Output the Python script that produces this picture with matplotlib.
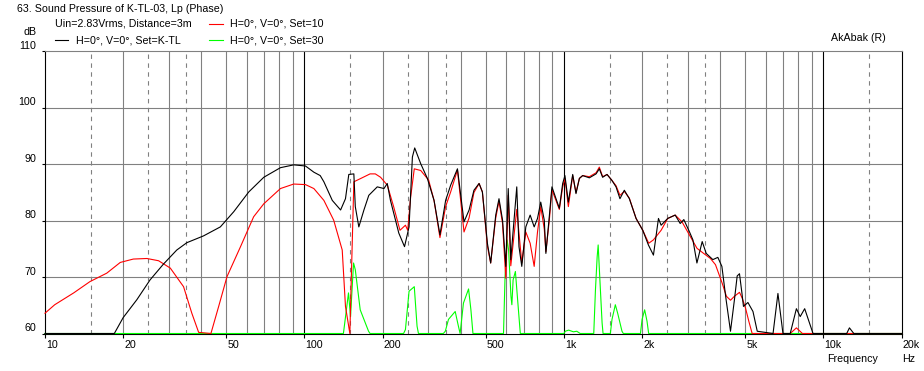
import numpy as np
import matplotlib
matplotlib.use("Agg")
import matplotlib.pyplot as plt
from matplotlib.ticker import FixedLocator, NullLocator, NullFormatter
from matplotlib.transforms import blended_transform_factory, offset_copy
from matplotlib.lines import Line2D

# ---------------- data ----------------
title = "63. Sound Pressure of K-TL-03, Lp (Phase)"
info = "Uin=2.83Vrms, Distance=3m"
series_names = ["H=0°, V=0°, Set=K-TL", "H=0°, V=0°, Set=10", "H=0°, V=0°, Set=30"]

x_tick_values = [10, 20, 50, 100, 200, 500, 1000, 2000, 5000, 10000, 20000]
x_tick_labels = ["10", "20", "50", "100", "200", "500", "1k", "2k", "5k", "10k", "20k"]
y_tick_values = [60, 70, 80, 90, 100, 110]

freq_ktl = [10, 18.5, 20.0, 22.6, 25.4, 28.6, 32.2, 35.2, 40.8, 47.4, 53.4, 61.0, 69.7,
            80.8, 90.9, 100.9, 108.7, 115, 118.8, 128, 137.8, 143.9, 148.2, 155, 157,
            162, 169.5, 177, 190.8, 202.5, 208.5, 214.5, 231, 243, 253, 260.6, 266,
            280.6, 297.6, 315.8, 332.8, 350, 366, 388.7, 412, 431, 450, 471, 485, 507,
            522, 546, 562, 580, 597, 610, 624, 658, 671, 688, 713, 741, 768, 791, 814,
            840, 852, 878, 899, 960, 989, 1009, 1040, 1081, 1113, 1147, 1181, 1253,
            1330, 1369, 1410, 1466, 1528, 1588, 1644, 1709, 1787, 1897, 2013, 2116,
            2213, 2314, 2369, 2512, 2684, 2806, 2898, 3048, 3141, 3255, 3411, 3535,
            3750, 3919, 4062, 4217, 4385, 4541, 4653, 4749, 4852, 4920, 5118, 5353,
            5560, 6397, 6680, 6985, 7450, 7870, 8140, 8470, 9120, 12300, 12600, 13100,
            20000]
spl_ktl = [60, 60, 62.8, 66.0, 69.5, 72.3, 74.8, 76.1, 77.3, 78.9, 81.6, 85.1, 87.7,
           89.4, 89.9, 89.7, 88.6, 88.0, 86.9, 83.6, 81.9, 83.9, 88.2, 88.3, 82.5,
           78.9, 81.9, 84.5, 86.0, 85.7, 86.6, 83.6, 77.8, 75.4, 78.9, 91.3, 92.9,
           90.1, 87.5, 83.6, 77.5, 83.6, 86.3, 89.2, 79.8, 81.9, 85.4, 86.6, 85.1, 76.0,
           72.5, 81.0, 83.9, 80.1, 71.9, 85.7, 73.1, 86.0, 75.4, 71.9, 78.9, 81.0, 78.9,
           80.4, 83.3, 80.1, 74.2, 80.7, 86.0, 82.2, 86.6, 88.0, 83.3, 88.2, 84.8, 87.5,
           88.0, 87.6, 88.3, 89.2, 87.7, 88.2, 87.2, 86.0, 83.9, 85.4, 83.9, 80.4, 78.3,
           75.7, 73.9, 80.4, 79.2, 80.4, 81.0, 79.5, 80.2, 78.0, 76.6, 72.5, 76.3, 74.2,
           73.1, 73.5, 71.9, 66.0, 60.4, 66.0, 70.2, 70.6, 67.2, 64.8, 65.5, 63.9,
           60.4, 60, 67.1, 60, 60, 64.4, 63.0, 64.4, 60, 60, 61.0, 60,
           60]

freq_set10 = [10, 10.9, 12.9, 14.9, 17.3, 19.5, 21.9, 24.7, 27.4, 30.4, 34.2, 36.8,
              39.1, 43.6, 46.7, 50.3, 56.7, 63.7, 69.7, 80.8, 90.9, 100.9, 108.7,
              118.8, 129.6, 139.8, 143.9, 149.6, 155, 165, 179, 187.5, 196.5, 208.6,
              220.6, 233.4, 245, 250, 256.6, 265, 280.6, 301, 315.8, 332.8, 350, 366,
              388.7, 412, 431, 450, 471, 485, 507, 522, 546, 562, 580, 597, 610, 624,
              658, 688, 713, 741, 768, 791, 814, 840, 852, 878, 899, 960, 989, 1009,
              1040, 1081, 1113, 1147, 1181, 1253, 1330, 1369, 1410, 1466, 1528, 1588,
              1644, 1709, 1787, 1897, 2013, 2122, 2213, 2369, 2512, 2684, 2851, 3069,
              3258, 3455, 3669, 3838, 4074, 4229, 4385, 4541, 4749, 4862, 5011, 5157,
              5314, 7450, 7870, 8300, 20000]
spl_set10 = [63.6, 65.1, 67.2, 69.2, 70.7, 72.6, 73.2, 73.3, 72.9, 71.6, 68.3, 63.6,
             60.2, 60, 64.8, 70.1, 75.4, 80.7, 83.0, 85.7, 86.5, 86.4, 85.7,
             83.6, 80.1, 74.8, 64.8, 60, 86.9, 87.5, 88.3, 88.3, 87.7, 86.3,
             82.5, 78.3, 79.2, 78.3, 84.2, 89.2, 88.9, 87.2, 83.6, 77.0, 82.5, 85.1,
             89.0, 78.0, 80.5, 85.0, 86.6, 85.1, 75.5, 72.5, 80.5, 83.5, 79.5, 69.8, 84.5, 72.0,
             82.0, 72.5, 78.0, 76.0, 71.9, 78.0, 82.5, 78.5, 74.5, 80.0, 85.5, 82.0, 86.0, 87.5,
             82.5, 88.0, 85.0, 87.5, 88.0, 87.8, 88.5, 89.5, 87.8, 88.2, 87.2, 86.2,
             84.5, 85.2, 84.0, 80.4, 78.3, 76.0, 76.6, 78.3, 80.4, 81.0, 79.8, 77.2,
             75.1, 74.2, 73.3, 72.2, 68.9, 66.6, 65.9, 66.6, 67.3, 66.3, 64.5, 62.2,
             60, 60, 61.0, 60, 60]

freq_set30 = [10, 141.3, 147.8, 150.5, 154.6, 157, 164, 176.6, 179, 241, 245, 253, 265,
              271.6, 275, 343, 349, 359, 381, 392, 398, 410, 429, 438, 446, 585, 593,
              604, 612, 625, 630, 637, 650, 663, 679, 1000, 1012, 1043, 1088, 1121,
              1155, 1303, 1323, 1343, 1355, 1374, 1403, 1415, 1510, 1532, 1578, 1611,
              1674, 1694, 1972, 2001, 2047, 2090, 2121, 20000]
spl_set30 = [60, 60, 67.2, 63.0, 72.5, 71.3, 64.2, 60.4, 60, 60, 60.7, 67.5, 68.3,
             61.3, 60, 60, 60.4, 62.5, 63.9, 61.3, 60, 65.4, 67.9, 64.2, 60, 60, 70.1,
             76.6, 74.8, 66.6, 65.1, 69.5, 71.0, 66.0, 60, 60, 60.4, 60.6, 60.3, 60.4,
             60, 60, 67.8, 73.6, 75.7, 70.1, 61.9, 60, 60, 62.5, 65.1, 63.6,
             60.4, 60, 60, 62.5, 64.2, 62.2, 60, 60]

# ---------------- style ----------------
plt.rcParams['font.family'] = ['Liberation Sans', 'DejaVu Sans']
FS = 7.7
GRAY = '#808080'
LW = 0.8
W, H = 924, 371

fig = plt.figure(figsize=(W / 100, H / 100), dpi=100)
fig.patch.set_facecolor('white')
L, R, T, B = 45, 901.5, 51.5, 333.5
ax = fig.add_axes([L / W, 1 - B / H, (R - L) / W, (B - T) / H])
ax.set_xscale('log')
ax.set_xlim(10, 20000)
ax.set_ylim(60, 110)

# grid
solid_grid = [20, 30, 40, 50, 60, 70, 80, 90, 200, 300, 400, 500, 600, 700, 800, 900,
              2000, 3000, 4000, 5000, 6000, 7000, 8000, 9000]
dashed_grid = [15, 25, 35, 150, 250, 350, 1500, 2500, 3500, 15000]
black_grid = [100, 1000, 10000]
for f in solid_grid:
    ax.axvline(f, color=GRAY, lw=LW, zorder=1)
for f in dashed_grid:
    ax.axvline(f, color=GRAY, lw=LW, dashes=(4, 4), zorder=1)
for f in black_grid:
    ax.axvline(f, color='black', lw=LW, zorder=1.5)
for yv in [70, 80, 90, 100]:
    ax.axhline(yv, color=GRAY, lw=LW, zorder=1)

# curves (green under red under black)
ax.plot(freq_set30, np.clip(spl_set30, 60, 110), color='#00ff00', lw=LW, zorder=3, clip_on=False)
ax.plot(freq_set10, np.clip(spl_set10, 60, 110), color='#ff0000', lw=LW, zorder=4, clip_on=False)
ax.plot(freq_ktl, np.clip(spl_ktl, 60, 110), color='black', lw=LW, zorder=5, clip_on=False)

# spines
for s in ['left', 'bottom', 'right']:
    ax.spines[s].set_color('black')
    ax.spines[s].set_linewidth(LW)
ax.spines['top'].set_color(GRAY)
ax.spines['top'].set_linewidth(LW)

# ticks
ax.xaxis.set_major_locator(FixedLocator(x_tick_values))
ax.xaxis.set_minor_locator(NullLocator())
ax.xaxis.set_major_formatter(NullFormatter())
ax.xaxis.set_minor_formatter(NullFormatter())
ax.yaxis.set_major_locator(FixedLocator(y_tick_values))
ax.yaxis.set_major_formatter(NullFormatter())
ax.tick_params(axis='both', which='major', direction='out', length=3, width=LW, color='black')
ax.tick_params(axis='y', length=2.5)

xt = blended_transform_factory(ax.transData, fig.transFigure)
for v, lab in zip(x_tick_values, x_tick_labels):
    ax.text(v, 1 - 345 / H, lab, transform=offset_copy(xt, fig=fig, x=1, y=0, units='dots'),
            ha='left', va='center', fontsize=FS)
yt = blended_transform_factory(fig.transFigure, ax.transData)
for v in y_tick_values:
    ax.text(36 / W, v, str(v), transform=offset_copy(yt, fig=fig, x=0, y=5.5, units='dots'),
            ha='right', va='center', fontsize=FS)

def ftext(x, y, s, **kw):
    fig.text(x / W, 1 - y / H, s, fontsize=FS, va='center', **kw)

ftext(17, 8.5, title, ha='left')
ftext(55, 24, info, ha='left')
ftext(37, 32, "dB", ha='right')
ftext(76, 40.5, series_names[0], ha='left')
ftext(230, 24, series_names[1], ha='left')
ftext(230, 40.5, series_names[2], ha='left')
ftext(886, 38, "AkAbak (R)", ha='right')
ftext(827, 359, "Frequency", ha='left')
ftext(902, 359, "Hz", ha='left')

# legend sample lines
for (x0, x1, y, c) in [(55, 68, 39.5, 'black'), (209, 223, 24, '#ff0000'), (209, 223, 40, '#00ff00')]:
    fig.add_artist(Line2D([x0 / W, x1 / W], [1 - y / H, 1 - y / H], color=c, lw=LW,
                          transform=fig.transFigure))

fig.savefig('out.png', dpi=100, facecolor='white')
